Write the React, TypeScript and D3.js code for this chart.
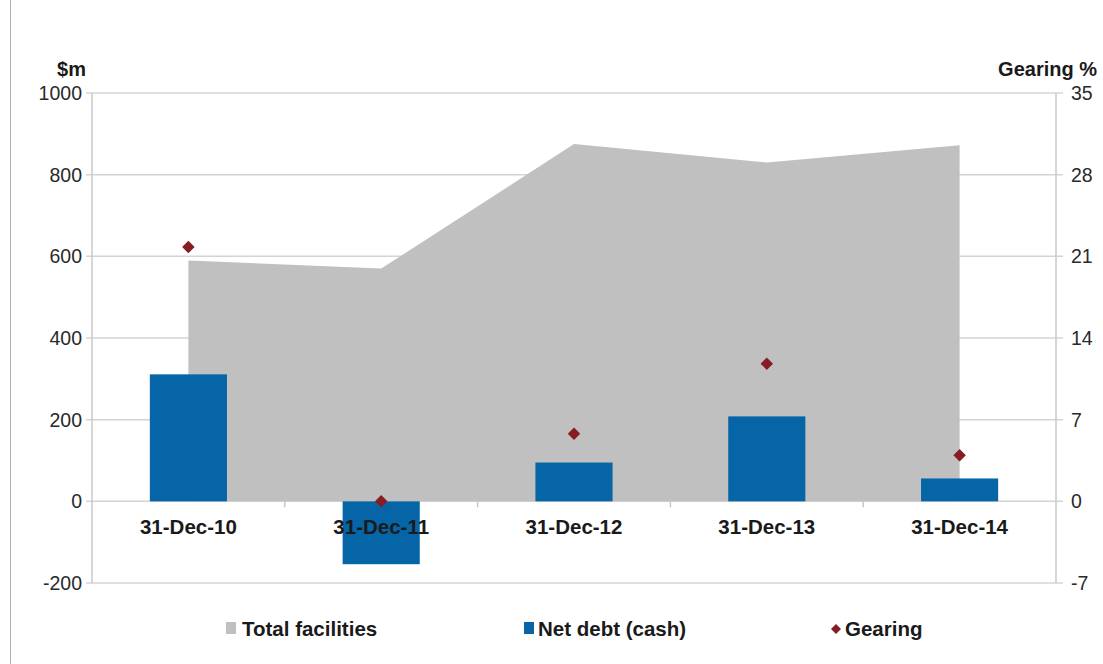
import React from "react";
import * as d3 from "d3";

const categories = ["31-Dec-10", "31-Dec-11", "31-Dec-12", "31-Dec-13", "31-Dec-14"];
const totalFacilities = [590, 570, 875, 830, 872];
const netDebt = [311, -154, 95, 208, 56];
const gearing = [21.8, 0, 5.8, 11.8, 3.95];
const leftTicks = [-200, 0, 200, 400, 600, 800, 1000];
const rightTicks = [-7, 0, 7, 14, 21, 28, 35];

const W = 1103;
const H = 664;
const M = { left: 92, right: 1056, top: 93, bottom: 583 };
const FONT = "'Liberation Sans', Arial, sans-serif";

export default function App() {
  const x = d3.scaleBand<string>().domain(categories).range([M.left, M.right]).paddingInner(0).paddingOuter(0);
  const yL = d3.scaleLinear().domain([-200, 1000]).range([M.bottom, M.top]);
  const yR = d3.scaleLinear().domain([-7, 35]).range([M.bottom, M.top]);
  const cx = (c: string) => (x(c) as number) + x.bandwidth() / 2;
  const barW = x.bandwidth() * 0.4;

  const area = d3
    .area<number>()
    .x((_, i) => cx(categories[i]))
    .y0(yL(0))
    .y1((d) => yL(d));

  const diamond = d3.symbol().type(d3.symbolSquare).size(78)();
  const diamondSmall = d3.symbol().type(d3.symbolSquare).size(50)();

  return (
    <svg width={W} height={H} style={{ position: "absolute", left: 0, top: 0, background: "#fff" }} fontFamily={FONT}>
      <rect x={0} y={0} width={W} height={H} fill="#fff" />
      <line x1={10.5} x2={10.5} y1={0} y2={H} stroke="#b0b0b0" strokeWidth={1} />
      {/* gridlines */}
      {leftTicks.map((t) => (
        <line key={t} x1={M.left - 6} x2={M.right + 7} y1={yL(t)} y2={yL(t)} stroke="#d4d4d4" strokeWidth={1.5} />
      ))}
      {/* axis lines */}
      <line x1={M.left} x2={M.left} y1={M.top} y2={M.bottom} stroke="#c8c8c8" strokeWidth={1.5} />
      <line x1={M.right} x2={M.right} y1={M.top} y2={M.bottom} stroke="#c8c8c8" strokeWidth={1.5} />
      {/* area */}
      <path d={area(totalFacilities) as string} fill="#c0c0c0" />
      {/* category ticks */}
      {categories.slice(1).map((c) => (
        <line key={c} x1={x(c) as number} x2={x(c) as number} y1={yL(0)} y2={yL(0) + 6} stroke="#c8c8c8" strokeWidth={1.5} />
      ))}
      {/* bars */}
      {netDebt.map((v, i) => (
        <rect
          key={i}
          x={cx(categories[i]) - barW / 2}
          y={Math.min(yL(v), yL(0))}
          width={barW}
          height={Math.abs(yL(v) - yL(0))}
          fill="#0565a6"
        />
      ))}
      {/* category labels */}
      {categories.map((c) => (
        <text key={c} x={cx(c)} y={yL(0) + 33} textAnchor="middle" fontSize={20.5} fontWeight="bold" fill="#1a1a1a">
          {c}
        </text>
      ))}
      {/* gearing */}
      {gearing.map((g, i) => (
        <path key={i} d={diamond as string} transform={`translate(${cx(categories[i])},${yR(g)}) rotate(45)`} fill="#861c24" />
      ))}
      {/* left tick labels */}
      {leftTicks.map((t) => (
        <text key={t} x={82} y={yL(t) + 7} textAnchor="end" fontSize={19.5} fill="#2a2a2a">
          {t}
        </text>
      ))}
      {rightTicks.map((t) => (
        <text key={t} x={1071} y={yR(t) + 7} textAnchor="start" fontSize={19.5} fill="#2a2a2a">
          {t}
        </text>
      ))}
      <text x={86} y={76} textAnchor="end" fontSize={20} fontWeight="bold" fill="#1a1a1a">
        $m
      </text>
      <text x={1097} y={76} textAnchor="end" fontSize={20} fontWeight="bold" fill="#1a1a1a">
        Gearing %
      </text>
      {/* legend */}
      <rect x={226} y={622} width={10} height={12} fill="#c0c0c0" />
      <text x={242} y={636} fontSize={20.5} fontWeight="bold" fill="#1a1a1a">Total facilities</text>
      <rect x={524} y={622} width={10} height={12} fill="#0565a6" />
      <text x={538} y={636} fontSize={20.5} fontWeight="bold" fill="#1a1a1a">Net debt (cash)</text>
      <path d={diamondSmall as string} transform="translate(836,629) rotate(45)" fill="#861c24" />
      <text x={845} y={636} fontSize={20.5} fontWeight="bold" fill="#1a1a1a">Gearing</text>
    </svg>
  );
}
